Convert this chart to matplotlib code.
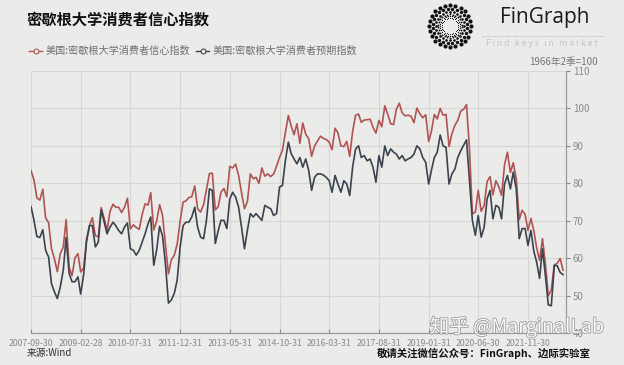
import numpy as np
import pandas as pd
import matplotlib
matplotlib.use("Agg")
import matplotlib.pyplot as plt
from matplotlib.lines import Line2D
import matplotlib.patheffects as pe

plt.rcParams['font.family'] = ['Noto Sans CJK SC', 'DejaVu Sans']

# monthly data, 2007-09 .. 2022-11
START = "2007-09-30"
sentiment = [
    83.4, 80.9, 76.1, 75.5,
    78.4, 70.8, 69.5, 62.6, 59.8, 56.4, 61.2, 63.0, 70.3, 57.6, 55.3, 60.1,
    61.2, 56.3, 57.3, 65.1, 68.7, 70.8, 66.0, 65.7, 73.5, 70.6, 67.4, 72.5,
    74.4, 73.6, 73.6, 72.2, 73.6, 76.0, 67.8, 68.9, 68.2, 67.7, 71.6, 74.5,
    74.2, 77.5, 67.5, 69.8, 74.3, 71.5, 63.7, 55.8, 59.5, 60.8, 63.7, 69.9,
    75.0, 75.3, 76.2, 76.4, 79.3, 73.2, 72.3, 74.3, 78.3, 82.6, 82.7, 72.9,
    73.8, 77.6, 78.6, 76.4, 84.5, 84.1, 85.1, 82.1, 77.5, 73.2, 75.1, 82.5,
    81.2, 81.6, 80.0, 84.1, 81.9, 82.5, 81.8, 82.5, 84.6, 86.9, 88.8, 93.6,
    98.1, 95.4, 93.0, 95.9, 90.7, 96.1, 93.1, 91.9, 87.2, 90.0, 91.3, 92.6,
    92.0, 91.7, 91.0, 89.0, 94.7, 93.5, 90.0, 89.8, 91.2, 87.2, 93.8, 98.2,
    98.5, 96.3, 96.9, 97.0, 97.1, 95.0, 93.4, 96.8, 95.1, 100.7, 98.5, 95.9,
    95.7, 99.7, 101.4, 98.8, 98.0, 98.2, 97.9, 96.2, 100.1, 98.6, 97.5, 98.3,
    91.2, 93.8, 98.4, 97.2, 100.0, 98.2, 98.4, 89.8, 93.2, 95.5, 96.8, 99.3,
    99.8, 101.0, 89.1, 71.8, 72.3, 78.1, 72.5, 74.1, 80.4, 81.8, 76.9, 80.7,
    79.0, 76.8, 84.9, 88.3, 82.9, 85.5, 81.2, 70.3, 72.8, 71.7, 67.4, 70.6,
    67.2, 62.8, 59.4, 65.2, 58.4, 50.0, 51.5, 58.2, 58.6, 59.9, 56.8,
]
expectations = [
    73.8, 70.1, 65.8, 65.5, 67.6, 62.1, 60.3, 53.2, 51.0, 49.2, 52.3, 56.8,
    65.5, 55.9, 53.7, 53.7, 55.0, 50.4, 55.5, 64.3, 68.7, 68.7, 63.0, 64.3,
    72.9, 69.6, 66.5, 68.3, 69.6, 68.7, 67.4, 66.5, 68.3, 69.4, 62.5, 62.1,
    60.8, 62.1, 64.3, 66.5, 69.2, 71.0, 58.1, 62.1, 68.5, 66.0, 58.5, 48.0,
    48.8, 50.6, 54.1, 63.0, 68.7, 69.6, 69.6, 71.0, 73.6, 68.3, 65.6, 65.2,
    70.1, 78.5, 78.1, 63.9, 67.4, 70.1, 70.1, 67.9, 75.8, 77.6, 76.3, 73.6,
    68.3, 62.5, 67.4, 71.9, 71.0, 71.9, 71.0, 70.1, 74.1, 73.6, 73.2, 71.4,
    71.9, 79.0, 79.4, 86.1, 91.0, 88.0, 86.5, 85.2, 86.9, 84.3, 86.5, 83.4,
    78.1, 81.6, 82.5, 82.5, 82.2, 81.6, 80.7, 77.6, 82.1, 79.8, 77.6, 80.7,
    79.8, 76.7, 84.3, 89.2, 90.0, 86.9, 87.4, 86.0, 86.5, 84.3, 80.3, 87.4,
    84.3, 90.0, 87.4, 89.2, 88.3, 87.8, 86.5, 87.4, 86.0, 86.5, 86.9, 87.8,
    90.0, 89.2, 86.9, 85.6, 79.8, 83.4, 86.9, 88.3, 92.9, 90.0, 89.6, 79.8,
    82.5, 83.8, 86.9, 88.7, 90.2, 91.6, 80.5, 70.1, 66.1, 71.4, 65.6, 68.3,
    75.8, 78.1, 70.5, 74.1, 73.6, 70.5, 79.8, 82.1, 78.5, 83.0, 78.5, 65.2,
    67.9, 67.9, 63.4, 67.4, 61.7, 59.0, 54.6, 62.5, 55.2, 47.5, 47.3, 58.0,
    58.0, 56.2, 55.6,
]
series_names = ["美国:密歇根大学消费者信心指数", "美国:密歇根大学消费者预期指数"]
y_ticks = [40, 50, 60, 70, 80, 90, 100, 110]

BG = "#ebebe9"
RED = "#b05453"
DARK = "#3a434e"

dates = pd.date_range(START, periods=len(sentiment), freq="ME")
tick_dates = dates[::17]

fig = plt.figure(figsize=(6.24, 3.65), dpi=100, facecolor=BG)
W, H = 624.0, 365.0
ax = fig.add_axes([31 / W, 1 - 333 / H, 535 / W, 262 / H], facecolor=BG)

ax.plot(dates, sentiment, color=RED, lw=1.2, zorder=3)
ax.plot(dates, expectations, color=DARK, lw=1.2, zorder=3)

ax.set_xlim(dates[0], pd.Timestamp("2022-12-31"))
ax.set_ylim(40, 110)
ax.set_yticks(y_ticks)
ax.yaxis.tick_right()
ax.set_xticks(tick_dates)
ax.set_xticklabels([d.strftime("%Y-%m-%d") for d in tick_dates])
ax.tick_params(axis="x", labelsize=6.3, colors="#8a8a8a", direction="in", length=3, pad=4)
ax.tick_params(axis="y", labelsize=7, colors="#8a8a8a", direction="out", length=3, pad=2)
ax.grid(True, color="#d6d6d4", lw=0.8)
for s in ["left", "top"]:
    ax.spines[s].set_visible(False)
for s in ["right", "bottom"]:
    ax.spines[s].set_color("#9a9a9a")
    ax.spines[s].set_linewidth(0.9)

# legend
handles = [
    Line2D([], [], color=c, lw=1.0, marker="o", markersize=3.5, markerfacecolor=BG,
           markeredgecolor=c, markeredgewidth=0.8)
    for c in [RED, DARK]
]
fig.legend(handles, series_names, loc="center left", bbox_to_anchor=(29 / W, 1 - 51 / H),
           ncol=2, frameon=False, fontsize=7.3, labelcolor="#707070", handlelength=1.3,
           handletextpad=0.3, columnspacing=0.6, borderaxespad=0, borderpad=0)

# titles / notes
fig.text(27 / W, 1 - 20 / H, "密歇根大学消费者信心指数", fontsize=11, fontweight="bold",
         color="#111111", va="center")
fig.text(598 / W, 1 - 62 / H, "1966年2季=100", fontsize=7, color="#777777",
         ha="right", va="center")
fig.text(27 / W, 1 - 353 / H, "来源:Wind", fontsize=7, color="#333333", va="center")
fig.text(591 / W, 1 - 353 / H, "敬请关注微信公众号：FinGraph、边际实验室", fontsize=7.5,
         fontweight="bold", color="#111111", ha="right", va="center")

# logo
lax = fig.add_axes([426 / W, 1 - 50 / H, 48 / W, 48 / H])
lax.set_xlim(-24, 24)
lax.set_ylim(-24, 24)
lax.set_aspect("equal")
lax.axis("off")
rings = [(21.0, 24, 9.0), (17.4, 24, 6.0), (14.3, 24, 3.6), (11.8, 26, 1.8), (9.8, 28, 0.9), (8.2, 30, 0.5)]
for k, (r, n, s) in enumerate(rings):
    a = np.linspace(0, 2 * np.pi, n, endpoint=False) + (k % 2) * np.pi / n
    lax.scatter(r * np.cos(a), r * np.sin(a), s=s, color="#111111", lw=0)

fig.text(500 / W, 1 - 18 / H, "FinGraph", fontsize=15, color="#1a1a1a",
         family=["Open Sans", "DejaVu Sans"], va="center")
fig.add_artist(Line2D([482 / W, 603 / W], [1 - 36 / H, 1 - 36 / H], color="#d2d2d0", lw=0.8))
fig.text(542 / W, 1 - 44 / H, "F i n d   k e y s   i n   m a r k e t", fontsize=6.2,
         color="#c4c4c2", ha="center", va="center")

# watermark
fig.text(517 / W, 1 - 327 / H, "知乎 @MarginalLab", fontsize=14, color="white", alpha=0.95,
         ha="center", va="center",
         path_effects=[pe.withStroke(linewidth=1.2, foreground="#9a9a9a")])

fig.savefig("out.png", dpi=100, facecolor=BG)
